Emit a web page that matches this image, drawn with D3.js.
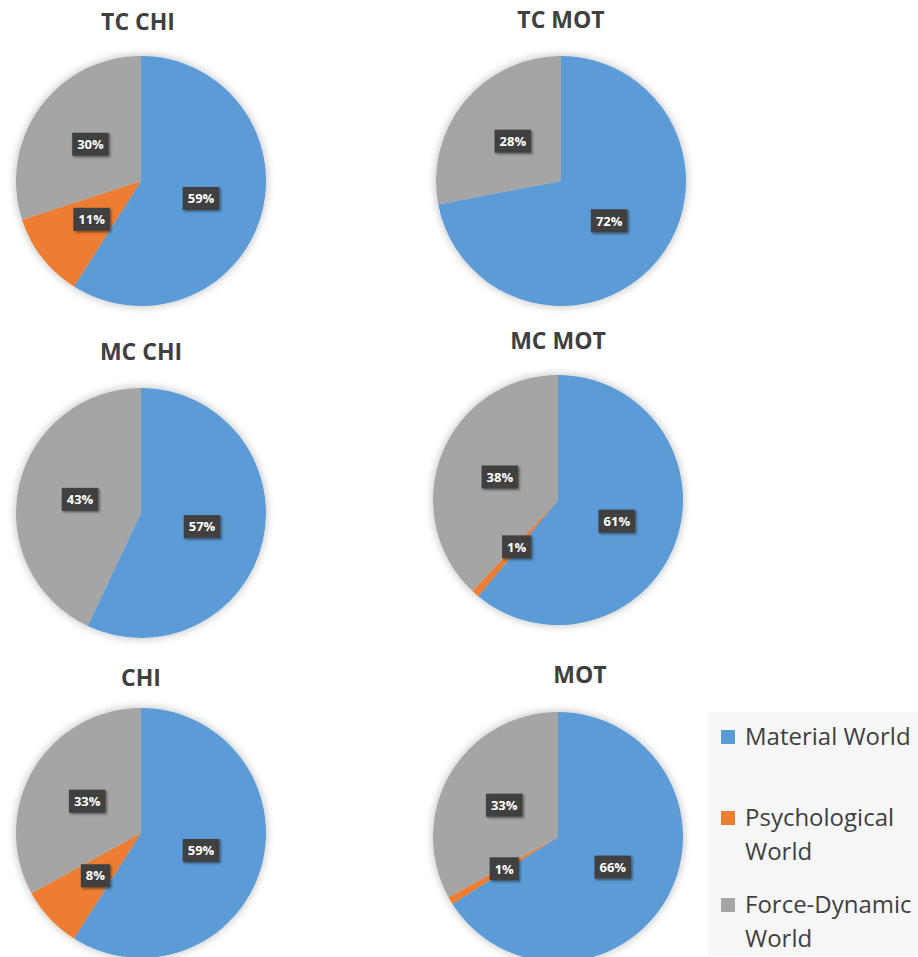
<!DOCTYPE html>
<html>
<head>
<meta charset="utf-8">
<script src="https://cdn.jsdelivr.net/npm/d3@7"></script>
<style>
  html, body { margin: 0; padding: 0; background: #ffffff; }
  svg { display: block; }
</style>
</head>
<body>
<script>
// Series shown in every pie, in drawing order (clockwise from 12 o'clock)
const categories = ["Material World", "Psychological World", "Force-Dynamic World"];
const chartTitles = ["TC CHI", "TC MOT", "MC CHI", "MC MOT", "CHI", "MOT"];
const materialValues      = [59, 72, 57, 61, 59, 66];
const psychologicalValues = [11,  0,  0,  1,  8,  1];
const forceDynamicValues  = [30, 28, 43, 38, 33, 33];
const seriesColors = ["#5B9BD5", "#ED7D31", "#A5A5A5"];

// Placement of each small pie on the page
const layout = [
  { cx: 141, cy: 181, tx: 138, ty: 30 },
  { cx: 561, cy: 181, tx: 561, ty: 28 },
  { cx: 141, cy: 513, tx: 141, ty: 360 },
  { cx: 558, cy: 500, tx: 558, ty: 349 },
  { cx: 141, cy: 833, tx: 141, ty: 686 },
  { cx: 558, cy: 837, tx: 580, ty: 683 }
];
const radius = 125;

const width = 918, height = 957;
const svg = d3.select("body").append("svg")
  .attr("width", width).attr("height", height);

const defs = svg.append("defs");
const pieShadow = defs.append("filter").attr("id", "pieShadow")
  .attr("x", "-20%").attr("y", "-20%").attr("width", "140%").attr("height", "140%");
pieShadow.append("feGaussianBlur").attr("in", "SourceAlpha").attr("stdDeviation", 5).attr("result", "b");
pieShadow.append("feComponentTransfer").attr("in", "b").attr("result", "s")
  .append("feFuncA").attr("type", "linear").attr("slope", 0.28);
const pm = pieShadow.append("feMerge");
pm.append("feMergeNode").attr("in", "s");
pm.append("feMergeNode").attr("in", "SourceGraphic");

const labelShadow = defs.append("filter").attr("id", "labelShadow")
  .attr("x", "-30%").attr("y", "-30%").attr("width", "160%").attr("height", "160%");
labelShadow.append("feDropShadow").attr("dx", 1.5).attr("dy", 1.5)
  .attr("stdDeviation", 1.2).attr("flood-color", "#000").attr("flood-opacity", 0.45);

const color = d3.scaleOrdinal().domain(categories).range(seriesColors);
const pie = d3.pie().sort(null).value(d => d.value);
const arc = d3.arc().innerRadius(0).outerRadius(radius);

chartTitles.forEach((title, i) => {
  const pos = layout[i];
  const rows = [
    { category: categories[0], value: materialValues[i] },
    { category: categories[1], value: psychologicalValues[i] },
    { category: categories[2], value: forceDynamicValues[i] }
  ];
  const total = d3.sum(rows, d => d.value);

  svg.append("text")
    .attr("x", pos.tx).attr("y", pos.ty)
    .attr("text-anchor", "middle")
    .attr("font-family", "'Open Sans', sans-serif")
    .attr("font-weight", "bold")
    .attr("font-size", 23)
    .attr("fill", "#404040")
    .text(title);

  const g = svg.append("g").attr("transform", `translate(${pos.cx},${pos.cy})`);
  const arcs = pie(rows);

  g.append("g").attr("filter", "url(#pieShadow)")
    .selectAll("path").data(arcs).join("path")
    .attr("d", arc)
    .attr("fill", d => color(d.data.category));

  const labels = g.selectAll("g.lbl").data(arcs.filter(d => d.data.value > 0)).join("g")
    .attr("class", "lbl")
    .attr("transform", d => `translate(${arc.centroid(d)})`);

  labels.each(function(d) {
    const lg = d3.select(this);
    const rect = lg.append("rect").attr("fill", "#404040").attr("filter", "url(#labelShadow)");
    const t = lg.append("text")
      .attr("text-anchor", "middle")
      .attr("dy", "0.36em")
      .attr("font-family", "'Open Sans', sans-serif")
      .attr("font-weight", "bold")
      .attr("font-size", 13)
      .attr("fill", "#ffffff")
      .text(d3.format(".0%")(d.data.value / total));
    const w = t.node().getComputedTextLength() + 10;
    rect.attr("x", -w / 2).attr("y", -11.5).attr("width", w).attr("height", 23);
  });
});

// Legend beside the last pie
const legend = svg.append("g");
legend.append("rect")
  .attr("x", 708).attr("y", 712).attr("width", 210).attr("height", 244)
  .attr("fill", "#f6f6f6");

const legendLines = [
  [["Material World"], [745]],
  [["Psychological", "World"], [826, 860]],
  [["Force-Dynamic", "World"], [913, 947]]
];
categories.forEach((c, i) => {
  const [lines, baselines] = legendLines[i];
  legend.append("rect")
    .attr("x", 721).attr("y", baselines[0] - 15)
    .attr("width", 14).attr("height", 14)
    .attr("fill", color(c));
  lines.forEach((ln, j) => {
    legend.append("text")
      .attr("x", 745).attr("y", baselines[j])
      .attr("font-family", "'Open Sans', sans-serif")
      .attr("font-size", 24)
      .attr("fill", "#404040")
      .text(ln);
  });
});
</script>
</body>
</html>
